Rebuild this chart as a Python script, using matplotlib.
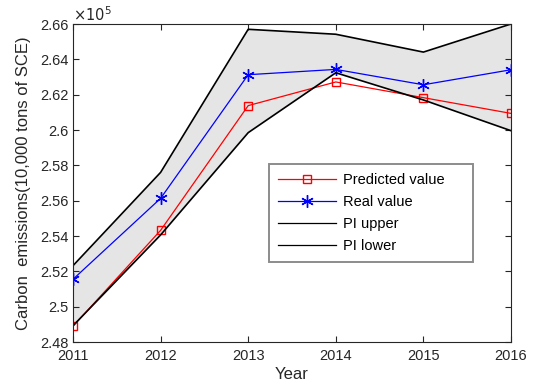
import matplotlib.pyplot as plt
from matplotlib.ticker import FuncFormatter

years = [2011, 2012, 2013, 2014, 2015, 2016]
predicted = [248890, 254320, 261380, 262720, 261830, 260940]
real = [251550, 256130, 263130, 263430, 262560, 263410]
pi_upper = [252320, 257600, 265700, 265420, 264410, 266000]
pi_lower = [248920, 254060, 259850, 263240, 261700, 259960]

plt.rcParams['font.family'] = ['Liberation Sans', 'DejaVu Sans']
plt.rcParams['font.size'] = 10

fig = plt.figure(figsize=(5.4, 3.87), dpi=100)
ax = fig.add_axes([73 / 540, 1 - 342 / 387, 438 / 540, 318 / 387])

ax.fill_between(years, pi_lower, pi_upper, color='#e5e5e5', lw=0)
ax.plot(years, predicted, color='red', lw=0.9, marker='s', ms=6, mfc='none', mec='red', label='Predicted value')
ax.plot(years, real, color='blue', lw=0.9, marker=(6, 2, 0), ms=9, mew=1.0, mec='blue', label='Real value')
ax.plot(years, pi_upper, color='black', lw=1.2, label='PI upper')
ax.plot(years, pi_lower, color='black', lw=1.2, label='PI lower')

ax.set_xlim(2011, 2016)
ax.set_ylim(248000, 266000)
ax.set_yticks([248000 + 2000 * i for i in range(10)])
ax.yaxis.set_major_formatter(FuncFormatter(lambda v, p: '%g' % (round(v / 1e5, 4))))
ax.tick_params(direction='in', top=True, right=True, labelsize=10.5, colors='#262626', length=4)
ax.tick_params(axis='x', pad=5)
for s in ax.spines.values():
    s.set_color('#262626')
ax.text(0.0, 1.0, r'$\times10^5$', transform=ax.transAxes, fontsize=10.5, color='#262626', va='bottom', ha='left')

ax.set_xlabel('Year', fontsize=12, color='#262626', labelpad=3)
ax.set_ylabel('Carbon  emissions(10,000 tons of SCE)', fontsize=12, color='#262626', labelpad=6)

# legend box: x 269..473 px, top at 164 px
x0 = (269 - 73) / 438
w = (473 - 269) / 438
y1 = (342 - 164) / 318
leg = ax.legend(loc='upper left', bbox_to_anchor=(x0, y1 - 0.3, w, 0.3), mode='expand',
                borderaxespad=0, fontsize=10.5, frameon=True, fancybox=False, shadow=False,
                handlelength=4.0, handletextpad=0.5, borderpad=0.6, labelspacing=0.55)
leg.get_frame().set_edgecolor('#707070')
leg.get_frame().set_linewidth(1.4)
for h in leg.get_lines()[2:]:
    h.set_linewidth(0.9)

fig.savefig('out.png', dpi=100)
